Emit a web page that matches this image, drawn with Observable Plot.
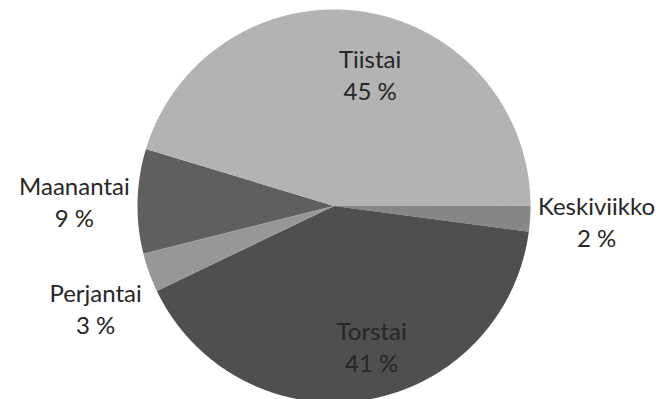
<!DOCTYPE html>
<html><head><meta charset="utf-8">
<script src="https://cdn.jsdelivr.net/npm/d3@7"></script>
<script src="https://cdn.jsdelivr.net/npm/@observablehq/plot@0.6"></script>
<style>html,body{margin:0;padding:0;background:#fff;overflow:hidden} svg{display:block}</style>
</head><body><div id="chart"></div>
<script>
// Data
const days = ["Maanantai", "Tiistai", "Keskiviikko", "Torstai", "Perjantai"];
const shares = [8.6, 45.3, 2.1, 40.8, 3.2];
const sliceColors = ["#5f5f5f", "#b3b3b3", "#878787", "#4f4f4f", "#979797"];
const firstSliceAngle = 255.9; // degrees, clockwise from 12 o'clock

// Layout
const W = 656, H = 399;
const cx = 333.5, cy = 205.5, R = 196.5;
const FONT_SIZE = 24, FONT = "Lato", LINE_H = 1.33;

const total = d3.sum(shares);
const a0 = firstSliceAngle * Math.PI / 180;
const arcs = d3.pie().sort(null).startAngle(a0).endAngle(a0 + 2 * Math.PI)(shares);

// Slice outlines in unit (data) coordinates
const outline = [];
arcs.forEach((a, i) => {
  const n = Math.max(2, Math.ceil((a.endAngle - a.startAngle) / (Math.PI / 720)));
  outline.push({day: days[i], x: 0, y: 0});
  for (let k = 0; k <= n; k++) {
    const t = a.startAngle + (a.endAngle - a.startAngle) * k / n;
    outline.push({day: days[i], x: Math.sin(t), y: Math.cos(t)});
  }
  outline.push({day: days[i], x: 0, y: 0});
});

// Labels
const ctx = document.createElement("canvas").getContext("2d");
ctx.font = `${FONT_SIZE}px ${FONT}`;
const pxToUnit = 1 / R;
const labels = arcs.map((a, i) => {
  const mid = (a.startAngle + a.endAngle) / 2, s = Math.sin(mid), c = Math.cos(mid);
  const pct = Math.round(shares[i] / total * 100);
  const lines = [days[i], `${pct} %`];
  const text = lines.join("\n");
  if (shares[i] / total > 0.2) {
    return {text, x: 0.7 * s + 16 * pxToUnit, y: 0.7 * c - 4 * pxToUnit};
  }
  const w = Math.max(...lines.map(t => ctx.measureText(t).width));
  const halfH = lines.length * FONT_SIZE * LINE_H / 2;
  const r = 1.04;
  const hx = Math.sign(s) * w / 2;
  const hy = -Math.sign(c) * Math.min(1, Math.pow(Math.abs(c) * 3, 2)) * halfH; // screen px, down positive
  return {text, x: r * s + hx * pxToUnit, y: r * c - hy * pxToUnit};
});

const chart = Plot.plot({
  width: W, height: H, margin: 0,
  x: {domain: [-1, 1], range: [cx - R, cx + R], axis: null},
  y: {domain: [-1, 1], range: [cy + R, cy - R], axis: null},
  color: {domain: days, range: sliceColors},
  style: {background: "#fff", overflow: "hidden"},
  marks: [
    Plot.line(outline, {x: "x", y: "y", z: "day", fill: "day", stroke: "none", curve: "linear"}),
    Plot.text(labels, {x: "x", y: "y", text: "text", fontSize: FONT_SIZE, fontFamily: FONT,
      fill: "#262626", lineHeight: LINE_H, lineAnchor: "middle", textAnchor: "middle"})
  ]
});
document.getElementById("chart").appendChild(chart);
</script>
</body></html>
